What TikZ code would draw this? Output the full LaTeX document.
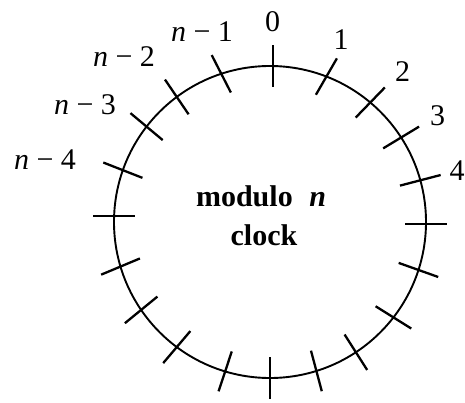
\documentclass[tikz,border=0pt]{standalone}
\usepackage{fontspec}
\setmainfont{Liberation Serif}
\usetikzlibrary{calc}
\begin{document}
\begin{tikzpicture}[x=1pt,y=1pt,
  lbl/.style={font=\fontsize{30}{36}\selectfont, inner sep=0pt, anchor=base},
  ctr/.style={font=\fontsize{30}{36}\selectfont\bfseries, inner sep=0pt, anchor=base},
  tickmark/.style={line width=2.3pt},
  rim/.style={line width=1.9pt}]
\useasboundingbox (0,0) rectangle (465,402);
\coordinate (c) at (270,180);
\draw[rim] (c) circle[radius=156];
\foreach \a/\d in {88.9/90, 68.8/60, 50/45.9, 32.8/31.2, 15.5/14.6, -0.7/0,
  -17.9/-19.6, -37.7/-32, -56.6/-57.5, -72.7/-75.1, -90/-90, -106.7/-108.3,
  -126.7/-130.3, -145.7/-140.7, -163.4/-157.3, 177.7/180, 160.6/158.6,
  142.3/140.1, 126.7/124.2, 108.2/117.1}
  \draw[tickmark] ($(c)+(\a:156)+(\d:21)$) -- ($(c)+(\a:156)+(\d:-21)$);
\node[lbl] (l0) at (272.5,370.3) {0};
\node[lbl] (l1) at (341,352.7) {1};
\node[lbl] (l2) at (402.5,320.3) {2};
\node[lbl] (l3) at (437.5,276) {3};
\node[lbl] (l4) at (457,222) {4};
\node[lbl] (lm1) at (202,360.3) {\textit{n} − 1};
\node[lbl] (lm2) at (124,335) {\textit{n} − 2};
\node[lbl] (lm3) at (85,287.5) {\textit{n} − 3};
\node[lbl] (lm4) at (45,232.5) {\textit{n} − 4};
\node[ctr] (title) at (261,196) {modulo\hspace{0.55em}\textit{n}};
\node[ctr] (clock) at (264,157) {clock};
\end{tikzpicture}
\end{document}
